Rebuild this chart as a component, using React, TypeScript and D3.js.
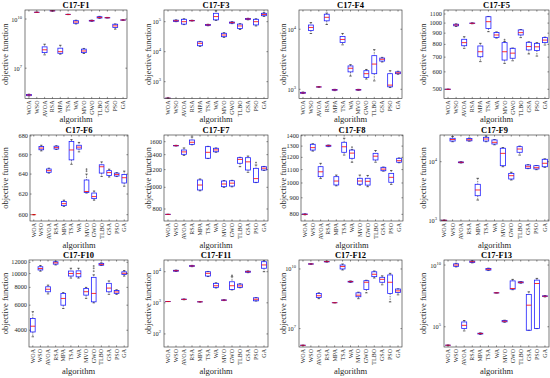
import React from 'react';
import * as d3 from 'd3';

const algorithms = ['WOA', 'WSO', 'AVOA', 'RSA', 'MPA', 'TSA', 'WA', 'MVO', 'GWO', 'TLBO', 'GSA', 'PSO', 'GA'];

const titles = ['C17-F1', 'C17-F3', 'C17-F4', 'C17-F5', 'C17-F6', 'C17-F7', 'C17-F8', 'C17-F9', 'C17-F10', 'C17-F11', 'C17-F12', 'C17-F13'];

// each row: [lower whisker, q1, median, q3, upper whisker] for one algorithm
const f1 = [
  [2.0e5, 2.1e5, 2.3e5, 2.5e5, 2.6e5], [2.5e10, 2.55e10, 2.57e10, 2.6e10, 2.65e10], [6.5e7, 8.9e7, 1.32e8, 2.0e8, 2.9e8],
  [3.0e10, 3.1e10, 3.15e10, 3.2e10, 3.3e10], [7.2e7, 8.1e7, 1.02e8, 1.66e8, 2.5e8], [1.85e10, 1.88e10, 1.9e10, 1.93e10, 1.96e10],
  [5.0e9, 5.5e9, 6.6e9, 7.9e9, 8.5e9], [7.9e7, 8.9e7, 1.12e8, 1.45e8, 1.6e8], [7.2e9, 7.5e9, 7.9e9, 8.3e9, 8.6e9],
  [1.1e10, 1.15e10, 1.25e10, 1.38e10, 1.45e10], [1.15e10, 1.17e10, 1.2e10, 1.22e10, 1.25e10], [2.4e9, 3.0e9, 3.8e9, 4.8e9, 5.0e9],
  [8.3e9, 8.5e9, 8.7e9, 8.8e9, 9.0e9],
];
const f3 = [
  [280, 281, 282, 283, 284], [1.0e5, 1.02e5, 1.07e5, 1.12e5, 1.15e5], [8.0e4, 8.3e4, 1.0e5, 1.2e5, 1.25e5],
  [1.05e5, 1.07e5, 1.08e5, 1.1e5, 1.12e5], [1.5e4, 1.58e4, 1.9e4, 2.14e4, 2.2e4], [7.3e4, 7.5e4, 7.8e4, 8.0e4, 8.2e4],
  [1.1e5, 1.15e5, 1.48e5, 1.9e5, 2.3e5], [3.0e4, 3.16e4, 3.6e4, 4.1e4, 4.3e4], [8.6e4, 8.9e4, 9.3e4, 9.7e4, 1.0e5],
  [5.5e4, 5.9e4, 7.2e4, 8.3e4, 8.6e4], [1.15e5, 1.19e5, 1.23e5, 1.27e5, 1.3e5], [7.2e4, 7.8e4, 1.0e5, 1.2e5, 1.25e5],
  [1.5e5, 1.58e5, 1.74e5, 1.9e5, 2.0e5],
];
const f4 = [
  [850, 860, 870, 890, 900], [8500, 9550, 10700, 11750, 12900], [1080, 1090, 1096, 1100, 1110],
  [12000, 13800, 15800, 17800, 18600], [950, 965, 977, 990, 1000], [5500, 6000, 6760, 7600, 8500],
  [1660, 1950, 2240, 2450, 2570], [960, 970, 980, 990, 1000], [1480, 1580, 1820, 2040, 2140],
  [1380, 1820, 2630, 3630, 4570], [2850, 2950, 3160, 3310, 3400], [1070, 1100, 1175, 1820, 2040],
  [1780, 1820, 1880, 1950, 2000],
];
const f5 = [
  [499, 499.5, 500, 500.5, 501], [965, 972, 980, 988, 992], [768, 789, 815, 844, 867],
  [993, 996, 998, 1000, 1003], [668, 703, 741, 787, 809], [914, 946, 1015, 1069, 1072],
  [855, 861, 883, 907, 912], [656, 679, 741, 815, 825], [674, 692, 730, 768, 770],
  [859, 883, 905, 931, 935], [724, 755, 782, 818, 822], [708, 750, 780, 809, 815],
  [795, 815, 837, 859, 863],
];
const f6 = [
  [600, 600, 600, 600, 600], [664, 665.2, 667, 668.6, 670], [641, 641.8, 643.5, 645.2, 646],
  [665.5, 666, 667.5, 669, 669.5], [608, 608.7, 610.6, 612.8, 614], [650, 654.6, 665, 674, 676],
  [663, 666, 668, 670, 673], [621, 621.5, 622.5, 634, 640], [614, 615.5, 617.5, 621, 623],
  [637.6, 641, 647.5, 649.5, 652.5], [637, 638.6, 641.5, 643.5, 645], [637.5, 638, 639.6, 641, 641.5],
  [627.8, 631, 636.3, 639.6, 643],
];
const f7 = [
  [756, 756.5, 757, 757.5, 758], [1530, 1533, 1536, 1539, 1542], [1390, 1405, 1440, 1469, 1500],
  [1550, 1557, 1590, 1628, 1680], [965, 973, 1024, 1079, 1090], [1345, 1349, 1434, 1520, 1525],
  [1435, 1442, 1470, 1495, 1500], [1000, 1007, 1035, 1067, 1072], [1005, 1013, 1044, 1070, 1075],
  [1237, 1281, 1333, 1357, 1362], [1167, 1195, 1300, 1357, 1380], [1050, 1053, 1094, 1216, 1259],
  [1190, 1195, 1218, 1237, 1240],
];
const f8 = [
  [797, 799, 800, 802, 803], [1255, 1264, 1286, 1317, 1322], [1032, 1046, 1083, 1123, 1150],
  [1295, 1298, 1304, 1308, 1310], [980, 986, 1014, 1046, 1058], [1220, 1244, 1294, 1336, 1375],
  [1159, 1192, 1237, 1264, 1270], [985, 991, 1014, 1034, 1058], [974, 985, 1012, 1034, 1055],
  [1159, 1178, 1210, 1235, 1260], [1088, 1091, 1104, 1118, 1120], [990, 1005, 1041, 1071, 1093],
  [1155, 1159, 1172, 1192, 1195],
];
const f9 = [
  [985, 987, 990, 992, 995], [22000, 22600, 24000, 25200, 27000], [9500, 9600, 9770, 9900, 10000],
  [22500, 22800, 23800, 25000, 25500], [2200, 2612, 3275, 4096, 5190], [22000, 22600, 24500, 26200, 27500],
  [19500, 20100, 21500, 23600, 24000], [8200, 8540, 13900, 17000, 17500], [4860, 5050, 5760, 6310, 6600],
  [12990, 14500, 16500, 18100, 18500], [7600, 7700, 8200, 8780, 8900], [7300, 7500, 7900, 8540, 8600],
  [8000, 8200, 9390, 11000, 11200],
];
const f10 = [
  [3600, 3891, 4270, 4838, 5400], [10400, 10600, 10860, 11170, 11400], [7200, 7450, 7760, 8078, 8300],
  [11500, 11650, 11900, 12100, 12200], [5690, 6000, 6690, 7262, 7350], [9300, 9610, 10020, 10420, 10900],
  [9300, 9490, 10000, 10450, 10900], [6700, 7060, 7460, 7870, 8000], [6230, 6333, 7256, 9409, 9800],
  [11400, 11450, 11600, 11800, 11900], [7150, 7450, 7910, 8540, 8880], [7150, 7260, 7430, 7600, 7700],
  [9600, 9850, 10050, 10290, 10500],
];
const f11 = [
  [1098, 1099, 1100, 1101, 1102], [10200, 10400, 10750, 11100, 11300], [1250, 1270, 1290, 1310, 1330],
  [14500, 14900, 15300, 15700, 16000], [1060, 1070, 1077, 1085, 1090], [7000, 7270, 8870, 10000, 10200],
  [3000, 3140, 3540, 4230, 4400], [1180, 1200, 1220, 1240, 1260], [2600, 2700, 3540, 4750, 6900],
  [3050, 3140, 3500, 4000, 4100], [9300, 9600, 10000, 10400, 10600], [1140, 1160, 1300, 1450, 1470],
  [10000, 12900, 16500, 21000, 23800],
];
const f12 = [
  [1.44e6, 1.45e6, 1.45e6, 1.46e6, 1.46e6], [1.7e10, 1.74e10, 1.78e10, 1.82e10, 1.86e10], [3.2e8, 3.7e8, 4.5e8, 5.9e8, 6.3e8],
  [2.2e10, 2.27e10, 2.34e10, 2.4e10, 2.45e10], [1.99e8, 2.0e8, 2.0e8, 2.01e8, 2.02e8], [8.9e9, 1.0e10, 1.32e10, 1.58e10, 1.78e10],
  [2.1e9, 2.2e9, 2.3e9, 2.4e9, 2.5e9], [3.2e8, 4.0e8, 4.8e8, 6.3e8, 6.8e8], [6.3e8, 9.3e8, 2.14e9, 2.57e9, 2.7e9],
  [3.5e9, 4.1e9, 5.4e9, 7.2e9, 7.9e9], [1.6e9, 2.14e9, 3.0e9, 3.8e9, 4.5e9], [2.2e8, 5.9e8, 2.14e9, 5.0e9, 6.0e9],
  [5.0e8, 6.6e8, 7.9e8, 9.8e8, 1.0e9],
];
const f13 = [
  [3150, 3180, 3200, 3220, 3250], [7.1e9, 7.9e9, 1.0e10, 1.26e10, 1.4e10], [4.6e4, 7.1e4, 1.3e5, 2.45e5, 3.2e5],
  [1.5e10, 1.6e10, 1.86e10, 2.1e10, 2.2e10], [2.4e4, 2.6e4, 2.8e4, 3.0e4, 3.2e4], [3.6e9, 3.9e9, 4.5e9, 5.2e9, 5.6e9],
  [5.4e7, 5.5e7, 5.6e7, 5.7e7, 5.8e7], [2.3e5, 2.5e5, 2.8e5, 3.2e5, 3.4e5], [1.0e8, 1.12e8, 1.26e8, 5.2e8, 6.9e8],
  [3.4e8, 3.6e8, 4.0e8, 4.4e8, 4.6e8], [5.2e4, 5.2e4, 5.6e6, 4.2e7, 6.8e7], [7.1e4, 7.1e4, 3.2e8, 6.0e8, 8.3e8],
  [2.6e7, 2.8e7, 3.0e7, 3.2e7, 3.4e7],
];

// outliers: [algorithm, value]
const f5Outliers = [['MVO', 840]];
const f6Outliers = [['MVO', 643], ['MVO', 645]];
const f7Outliers = [['PSO', 1290]];
const f8Outliers = [['WA', 1290]];
const f10Outliers = [['GWO', 10400], ['GWO', 10900], ['GWO', 11300]];
const f11Outliers = [['GWO', 7600]];

const yDomains = [
  [1.41e5, 3.55e10], [275, 2.45e5], [703, 20900], [454, 1147],
  [594, 681], [707, 1714], [763, 1407], [962, 28700],
  [3051, 12457], [38, 23800], [1.19e6, 2.82e10], [2290, 2.57e10],
];

const yTicks = [
  [1e7, 1e10], [1e3, 1e4, 1e5], [1e3, 1e4], [500, 600, 700, 800, 900, 1000, 1100],
  [600, 620, 640, 660, 680], [800, 1000, 1200, 1400, 1600], [800, 900, 1000, 1100, 1200, 1300, 1400], [1e3, 1e4],
  [4000, 6000, 8000, 10000, 12000], [1e2, 1e3, 1e4], [1e7, 1e10], [1e5, 1e10],
];

const panelStats = [f1, f3, f4, f5, f6, f7, f8, f9, f10, f11, f12, f13];
const panelOutliers = [[], [], [], f5Outliers, f6Outliers, f7Outliers, f8Outliers, [], f10Outliers, f11Outliers, [], []];

// layout (pixels)
const colX = [
  [25, 127], [164, 268], [299, 402], [444, 549],
  [30, 128], [164, 268], [301, 403], [440, 549],
  [29, 128], [164, 268], [299, 402], [444, 549],
];
const rowY = [[10, 98.5], [135, 221], [260, 347]];
const yLabelX = [8, 151, 286, 426];
const xLabelY = [122, 248, 374];

const FONT = '"Liberation Serif", "Times New Roman", serif';
const AX = '#262626';

function isPow10(v: number) {
  const l = Math.log10(v);
  return Math.abs(l - Math.round(l)) < 1e-9;
}

function Panel({ i }: { i: number }) {
  const [x0, x1] = colX[i];
  const row = Math.floor(i / 4);
  const col = i % 4;
  const [y0, y1] = rowY[row];
  const x = d3.scalePoint<string>().domain(algorithms).range([x0, x1]).padding(0.5);
  const y = d3.scaleLog().domain(yDomains[i]).range([y1, y0]);
  const step = x.step();
  const bw = step * 0.62;
  const cw = bw * 0.5;
  const ticks = yTicks[i];
  const pow = ticks.every(isPow10);
  const stats = panelStats[i];
  const outs = panelOutliers[i] as [string, number][];
  const tl = 1.6;
  const clipId = `clip${i}`;
  return (
    <g>
      <defs>
        <clipPath id={clipId}>
          <rect x={x0} y={y0} width={x1 - x0} height={y1 - y0} />
        </clipPath>
      </defs>
      <rect x={x0} y={y0} width={x1 - x0} height={y1 - y0} fill="#fff" stroke="none" />
      <g clipPath={`url(#${clipId})`}>
        {stats.map((s, k) => {
          const cx = x(algorithms[k])!;
          const [lo, q1, md, q3, hi] = s;
          return (
            <g key={k}>
              <line x1={cx} x2={cx} y1={y(hi)} y2={y(q3)} stroke="#000" strokeWidth={0.5} strokeDasharray="1.5,1" />
              <line x1={cx} x2={cx} y1={y(q1)} y2={y(lo)} stroke="#000" strokeWidth={0.5} strokeDasharray="1.5,1" />
              <line x1={cx - cw / 2} x2={cx + cw / 2} y1={y(hi)} y2={y(hi)} stroke="#000" strokeWidth={0.6} />
              <line x1={cx - cw / 2} x2={cx + cw / 2} y1={y(lo)} y2={y(lo)} stroke="#000" strokeWidth={0.6} />
              <rect x={cx - bw / 2} y={y(q3)} width={bw} height={Math.max(0, y(q1) - y(q3))} fill="none" stroke="#2020ff" strokeWidth={0.8} />
              <line x1={cx - bw / 2} x2={cx + bw / 2} y1={y(md)} y2={y(md)} stroke="#ff0000" strokeWidth={0.8} />
            </g>
          );
        })}
        {outs.map(([a, v], k) => {
          const cx = x(a)!;
          const cy = y(v);
          return (
            <g key={'o' + k} stroke="#333" strokeWidth={0.5}>
              <line x1={cx - 1} x2={cx + 1} y1={cy} y2={cy} />
              <line x1={cx} x2={cx} y1={cy - 1} y2={cy + 1} />
            </g>
          );
        })}
      </g>
      <rect x={x0} y={y0} width={x1 - x0} height={y1 - y0} fill="none" stroke={AX} strokeWidth={0.6} />
      {ticks.map((t) => {
        const ty = y(t);
        return (
          <g key={'yt' + t}>
            <line x1={x0} x2={x0 + tl} y1={ty} y2={ty} stroke={AX} strokeWidth={0.5} />
            <line x1={x1} x2={x1 - tl} y1={ty} y2={ty} stroke={AX} strokeWidth={0.5} />
            {pow ? (
              <text x={x0 - 3} y={ty + 2.5} textAnchor="end" fontFamily={FONT} fontSize={6.3} fill={AX}>
                10
                <tspan dy={-3} fontSize={4.5}>{Math.round(Math.log10(t))}</tspan>
              </text>
            ) : (
              <text x={x0 - 2} y={ty + 2} textAnchor="end" fontFamily={FONT} fontSize={6.3} fill={AX}>
                {t}
              </text>
            )}
          </g>
        );
      })}
      {algorithms.map((a) => {
        const cx = x(a)!;
        return (
          <g key={'xt' + a}>
            <line x1={cx} x2={cx} y1={y1} y2={y1 - tl} stroke={AX} strokeWidth={0.5} />
            <line x1={cx} x2={cx} y1={y0} y2={y0 + tl} stroke={AX} strokeWidth={0.5} />
            <text
              transform={`translate(${cx + 2},${y1 + 2}) rotate(-90)`}
              textAnchor="end"
              fontFamily={FONT}
              fontSize={6}
              fill={AX}
            >
              {a}
            </text>
          </g>
        );
      })}
      <text x={(x0 + x1) / 2} y={y0 - 2} textAnchor="middle" fontFamily={FONT} fontWeight="bold" fontSize={8.5} fill="#000">
        {titles[i]}
      </text>
      <text x={(x0 + x1) / 2} y={xLabelY[row]} textAnchor="middle" fontFamily={FONT} fontSize={8.5} fill={AX}>
        algorithm
      </text>
      <text
        transform={`translate(${yLabelX[col]},${(y0 + y1) / 2}) rotate(-90)`}
        textAnchor="middle"
        fontFamily={FONT}
        fontSize={8.5}
        fill={AX}
      >
        objective function
      </text>
    </g>
  );
}

export default function App() {
  return (
    <svg width={550} height={378} style={{ position: 'absolute', left: 0, top: 0, background: '#fff' }}>
      <rect width={550} height={378} fill="#fff" />
      {titles.map((_, i) => (
        <Panel key={i} i={i} />
      ))}
    </svg>
  );
}
